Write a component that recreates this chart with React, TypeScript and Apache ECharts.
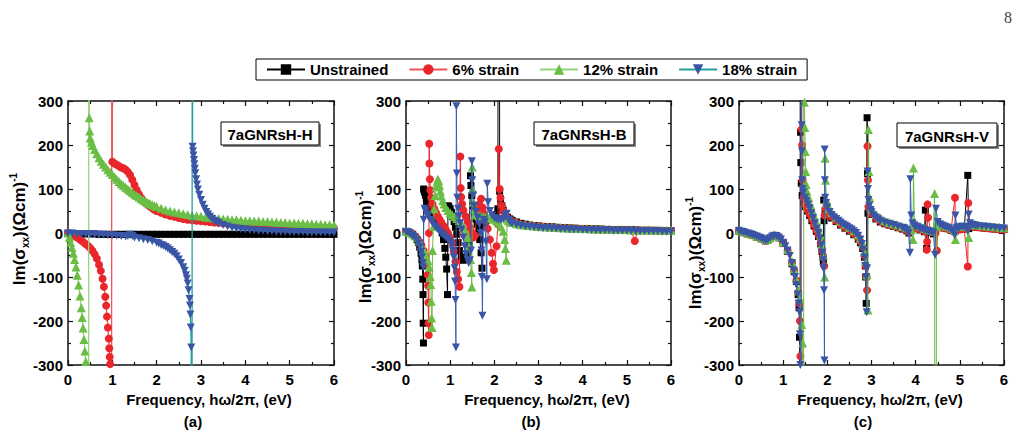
import React, { useEffect, useRef } from 'react';
import * as echarts from 'echarts';

type P = [number, number][];
const FONT = "'Liberation Sans', Arial, Helvetica, sans-serif";

const seriesNames = ['Unstrained', '6% strain', '12% strain', '18% strain'];
const panelTitles = ['7aGNRsH-H', '7aGNRsH-B', '7aGNRsH-V'];
const panelLetters = ['(a)', '(b)', '(c)'];
const xAxisTitle = 'Frequency, hω/2π, (eV)';
const X_MIN = 0, X_MAX = 6, X_STEP = 1;
const Y_MIN = -300, Y_MAX = 300, Y_STEP = 100;

// ---------- Panel (a) 7aGNRsH-H ----------
const aUnstrained: P = [[0,-1],[0.1,-1],[0.2,-2],[0.3,-2],[0.4,-2],[0.5,-2],[0.6,-2],[0.7,-3],[0.8,-3],[0.9,-3],[1,-3],[1.1,-3],[1.2,-3],[1.3,-3],[1.4,-3],[1.5,-3],[1.6,-3],[1.7,-3],[1.8,-3],[1.9,-3],[2,-3],[2.1,-3],[2.2,-3],[2.3,-3],[2.4,-3],[2.5,-3],[2.6,-3],[2.7,-3],[2.8,-3],[2.9,-3],[3,-3],[3.1,-3],[3.2,-3],[3.3,-3],[3.4,-3],[3.5,-3],[3.6,-3],[3.7,-3],[3.8,-3],[3.9,-3],[4,-3],[4.1,-3],[4.2,-3],[4.3,-3],[4.4,-3],[4.5,-3],[4.6,-3],[4.7,-3],[4.8,-3],[4.9,-3],[5,-3],[5.1,-3],[5.2,-3],[5.3,-3],[5.4,-3],[5.5,-3],[5.6,-3],[5.7,-3],[5.8,-3],[5.9,-3],[6,-3]];
const aStrain6: P = [[0,0],[0.05,-2],[0.1,-4],[0.15,-7],[0.2,-10],[0.25,-13],[0.3,-17],[0.35,-21],[0.4,-25],[0.45,-29],[0.5,-34],[0.55,-40],[0.6,-48],[0.65,-58],[0.7,-72],[0.74,-86],[0.78,-104],[0.81,-122],[0.84,-145],[0.86,-165],[0.88,-190],[0.9,-215],[0.92,-240],[0.93,-262],[0.94,-282],[0.95,-298],[0.97,-3000],[1.0,3000],[1.0,162],[1.05,158],[1.1,155],[1.15,152],[1.2,149],[1.25,147],[1.3,144],[1.35,139],[1.4,132],[1.45,121],[1.5,109],[1.55,98],[1.6,88],[1.65,80],[1.7,73],[1.75,68],[1.8,64],[1.85,60],[1.9,56],[1.95,53],[2,50],[2.1,46],[2.2,42],[2.3,39],[2.4,37],[2.5,34],[2.6,32],[2.7,30],[2.8,29],[2.9,28],[3,27],[3.1,26],[3.2,25],[3.3,24],[3.4,23],[3.5,22],[3.6,21],[3.7,20],[3.8,20],[3.9,19],[4,19],[4.1,18],[4.2,18],[4.3,17],[4.4,17],[4.5,16],[4.6,16],[4.7,15],[4.8,15],[4.9,14],[5,14],[5.1,14],[5.2,13],[5.3,13],[5.4,13],[5.5,12],[5.6,12],[5.7,12],[5.8,11],[5.9,11],[6,11]];
const aStrain12: P = [[0,0],[0.03,-10],[0.06,-21],[0.09,-33],[0.12,-46],[0.15,-60],[0.18,-77],[0.21,-96],[0.24,-118],[0.27,-143],[0.3,-170],[0.32,-192],[0.34,-216],[0.36,-242],[0.38,-268],[0.4,-292],[0.46,-3000],[0.475,3000],[0.48,262],[0.49,232],[0.5,216],[0.53,207],[0.56,199],[0.6,190],[0.65,180],[0.7,171],[0.75,163],[0.8,156],[0.85,150],[0.9,144],[0.95,138],[1,133],[1.05,127],[1.1,122],[1.15,117],[1.2,112],[1.25,108],[1.3,104],[1.35,100],[1.4,96],[1.45,92],[1.5,88],[1.55,85],[1.6,82],[1.65,78],[1.7,75],[1.75,72],[1.8,69],[1.85,67],[1.9,64],[1.95,62],[2,60],[2.1,56],[2.2,53],[2.3,50],[2.4,48],[2.5,46],[2.6,44],[2.7,42],[2.8,40],[2.9,39],[3,38],[3.1,36],[3.2,35],[3.3,34],[3.4,33],[3.5,32],[3.6,31],[3.7,30],[3.8,30],[3.9,29],[4,28],[4.1,28],[4.2,27],[4.3,27],[4.4,26],[4.5,26],[4.6,25],[4.7,25],[4.8,24],[4.9,24],[5,23],[5.1,23],[5.2,22],[5.3,22],[5.4,21],[5.5,21],[5.6,20],[5.7,20],[5.8,19],[5.9,19],[6,18]];
const aStrain18: P = [[0,-1],[0.1,-1],[0.2,-2],[0.3,-2],[0.4,-3],[0.5,-3],[0.6,-3],[0.7,-4],[0.8,-4],[0.9,-5],[1,-5],[1.1,-6],[1.2,-7],[1.3,-8],[1.35,-7],[1.4,-4],[1.45,-7],[1.5,-10],[1.6,-12],[1.7,-14],[1.8,-16],[1.9,-19],[2,-22],[2.05,-24],[2.1,-27],[2.15,-29],[2.2,-32],[2.25,-35],[2.3,-39],[2.35,-43],[2.4,-47],[2.45,-53],[2.5,-60],[2.55,-68],[2.6,-78],[2.63,-86],[2.66,-96],[2.68,-104],[2.7,-115],[2.72,-130],[2.74,-150],[2.75,-165],[2.76,-185],[2.77,-215],[2.78,-260],[2.79,-3000],[2.81,3000],[2.81,196],[2.82,186],[2.83,176],[2.84,166],[2.85,156],[2.86,146],[2.87,136],[2.89,122],[2.91,110],[2.93,99],[2.96,87],[3,75],[3.04,64],[3.08,55],[3.12,48],[3.16,42],[3.2,37],[3.25,32],[3.3,28],[3.35,25],[3.4,22],[3.5,18],[3.6,15],[3.7,12],[3.8,10],[3.9,9],[4,8],[4.1,7],[4.2,6],[4.3,5],[4.4,5],[4.5,4],[4.6,4],[4.7,3],[4.8,3],[4.9,3],[5,2],[5.1,2],[5.2,2],[5.3,2],[5.4,1],[5.5,1],[5.6,1],[5.7,1],[5.8,1],[5.9,1],[6,1]];

// ---------- Panel (b) 7aGNRsH-B ----------
const bUnstrained: P = [[0,3],[0.05,2],[0.1,0],[0.15,-3],[0.2,-8],[0.25,-15],[0.28,-22],[0.31,-32],[0.34,-46],[0.36,-60],[0.37,-75],[0.38,-105],[0.385,-140],[0.39,-205],[0.395,-250],[0.4,100],[0.41,97],[0.42,93],[0.44,86],[0.46,79],[0.48,72],[0.5,66],[0.53,58],[0.56,51],[0.6,44],[0.64,38],[0.68,32],[0.72,26],[0.76,18],[0.79,10],[0.82,0],[0.85,-15],[0.88,-35],[0.9,-55],[0.92,-82],[0.94,-140],[0.95,62],[0.97,60],[1,55],[1.03,47],[1.06,37],[1.09,26],[1.12,13],[1.15,-3],[1.18,-22],[1.21,-40],[1.25,-55],[1.3,-62],[1.35,-58],[1.4,-45],[1.43,-25],[1.46,130],[1.47,108],[1.49,85],[1.52,62],[1.55,45],[1.58,32],[1.61,20],[1.64,5],[1.67,-15],[1.7,-45],[1.72,-80],[1.74,15],[1.77,24],[1.8,27],[1.85,30],[1.9,32],[1.95,34],[2,37],[2.04,42],[2.08,55],[2.11,3000],[2.12,95],[2.14,78],[2.17,62],[2.2,52],[2.25,42],[2.3,36],[2.35,32],[2.4,29],[2.5,25],[2.6,22],[2.7,20],[2.8,18],[2.9,17],[3,16],[3.1,15],[3.2,14],[3.3,14],[3.4,13],[3.5,12],[3.6,12],[3.7,11],[3.8,11],[3.9,10],[4,10],[4.1,10],[4.2,9],[4.3,9],[4.4,9],[4.5,8],[4.6,8],[4.7,8],[4.8,8],[4.9,7],[5,7],[5.1,7],[5.2,7],[5.3,6],[5.4,6],[5.5,6],[5.6,6],[5.7,6],[5.8,5],[5.9,5],[6,5]];
const bStrain6: P = [[0,3],[0.05,2],[0.1,0],[0.15,-3],[0.2,-7],[0.25,-12],[0.3,-19],[0.35,-28],[0.4,-40],[0.44,-53],[0.47,-70],[0.49,-95],[0.5,-120],[0.505,-158],[0.51,-205],[0.515,-232],[0.52,0],[0.525,203],[0.53,158],[0.54,122],[0.55,97],[0.57,80],[0.6,66],[0.64,55],[0.68,46],[0.72,38],[0.76,31],[0.8,24],[0.85,16],[0.9,8],[0.95,0],[1,-10],[1.04,-22],[1.08,-40],[1.12,-65],[1.15,-88],[1.18,-105],[1.21,-122],[1.23,174],[1.24,102],[1.25,82],[1.27,66],[1.3,52],[1.35,38],[1.4,25],[1.45,12],[1.5,0],[1.53,-10],[1.56,-5],[1.6,40],[1.63,55],[1.66,65],[1.7,78],[1.73,58],[1.76,44],[1.8,28],[1.85,10],[1.9,-15],[1.94,-45],[1.97,-70],[1.99,-84],[2.05,-30],[2.08,20],[2.1,191],[2.12,100],[2.14,80],[2.17,62],[2.2,50],[2.25,40],[2.3,34],[2.35,30],[2.4,27],[2.5,23],[2.6,20],[2.7,18],[2.8,17],[2.9,16],[3,15],[3.1,14],[3.2,13],[3.3,13],[3.4,12],[3.5,12],[3.6,11],[3.7,11],[3.8,10],[3.9,10],[4,9],[4.1,9],[4.2,9],[4.3,8],[4.4,8],[4.5,8],[4.6,8],[4.7,7],[4.8,7],[4.9,7],[5,7],[5.1,6],[5.18,-18],[5.25,6],[5.3,6],[5.4,6],[5.5,6],[5.6,5],[5.7,5],[5.8,5],[5.9,5],[6,5]];
const bStrain12: P = [[0,4],[0.05,3],[0.1,1],[0.15,-2],[0.2,-6],[0.25,-11],[0.3,-18],[0.35,-27],[0.4,-38],[0.45,-50],[0.5,-63],[0.53,-78],[0.55,-99],[0.56,-117],[0.57,-155],[0.58,-193],[0.59,-215],[0.6,-40],[0.62,15],[0.64,55],[0.66,85],[0.68,105],[0.7,116],[0.72,122],[0.74,119],[0.76,108],[0.78,95],[0.8,84],[0.83,74],[0.86,66],[0.9,58],[0.95,51],[1,46],[1.05,41],[1.1,37],[1.15,33],[1.2,28],[1.25,22],[1.3,14],[1.35,4],[1.4,-10],[1.43,-30],[1.46,-60],[1.48,-90],[1.49,-123],[1.5,150],[1.51,100],[1.52,70],[1.54,52],[1.57,44],[1.6,41],[1.65,39],[1.7,38],[1.75,37],[1.8,36],[1.85,35],[1.9,34],[1.95,33],[2,31],[2.05,28],[2.1,22],[2.15,14],[2.2,4],[2.23,-15],[2.25,-35],[2.27,-62],[2.29,32],[2.32,28],[2.36,25],[2.4,24],[2.5,21],[2.6,19],[2.7,18],[2.8,17],[2.9,16],[3,15],[3.1,14],[3.2,14],[3.3,13],[3.4,13],[3.5,12],[3.6,12],[3.7,11],[3.8,11],[3.9,10],[4,10],[4.1,10],[4.2,9],[4.3,9],[4.4,9],[4.5,9],[4.6,8],[4.7,8],[4.8,8],[4.9,8],[5,8],[5.1,7],[5.2,7],[5.3,7],[5.4,7],[5.5,7],[5.6,7],[5.7,6],[5.8,6],[5.9,6],[6,6]];
const bStrain18: P = [[0,3],[0.05,1],[0.1,-2],[0.15,-6],[0.2,-11],[0.25,-17],[0.28,-24],[0.31,-32],[0.34,-43],[0.36,-55],[0.38,-68],[0.39,-78],[0.4,30],[0.42,55],[0.44,50],[0.47,43],[0.5,38],[0.55,30],[0.6,22],[0.65,16],[0.7,10],[0.75,4],[0.8,-1],[0.85,-5],[0.9,-10],[0.95,-15],[1,-20],[1.03,-28],[1.06,-40],[1.08,-55],[1.1,-80],[1.11,-110],[1.12,-152],[1.13,-260],[1.14,288],[1.15,135],[1.16,80],[1.18,55],[1.2,38],[1.23,22],[1.26,8],[1.3,-10],[1.33,-30],[1.36,-48],[1.39,-60],[1.42,-68],[1.45,-62],[1.47,-40],[1.49,163],[1.5,120],[1.52,85],[1.55,62],[1.58,48],[1.62,35],[1.66,20],[1.69,0],[1.71,-40],[1.72,-100],[1.73,-188],[1.75,30],[1.78,25],[1.81,-20],[1.83,-105],[1.84,112],[1.86,70],[1.9,50],[1.95,40],[2,34],[2.05,31],[2.1,30],[2.15,30],[2.2,32],[2.25,38],[2.28,44],[2.32,30],[2.36,25],[2.4,22],[2.5,19],[2.6,17],[2.7,15],[2.8,14],[2.9,13],[3,12],[3.1,11],[3.2,11],[3.3,10],[3.4,10],[3.5,9],[3.6,9],[3.7,8],[3.8,8],[3.9,8],[4,7],[4.1,7],[4.2,7],[4.3,6],[4.4,6],[4.5,6],[4.6,6],[4.7,5],[4.8,5],[4.9,5],[5,5],[5.1,5],[5.2,4],[5.3,4],[5.4,4],[5.5,4],[5.6,4],[5.7,4],[5.8,3],[5.9,3],[6,3]];

// ---------- Panel (c) 7aGNRsH-V ----------
const cUnstrained: P = [[0,4],[0.1,1],[0.2,-2],[0.3,-5],[0.4,-9],[0.5,-13],[0.6,-18],[0.65,-17],[0.7,-13],[0.8,-7],[0.9,-11],[1,-23],[1.1,-42],[1.2,-70],[1.25,-88],[1.3,-110],[1.34,-140],[1.36,-170],[1.37,-237],[1.38,-3000],[1.39,3000],[1.395,229],[1.4,160],[1.41,113],[1.43,85],[1.46,70],[1.5,60],[1.55,50],[1.6,40],[1.65,28],[1.7,16],[1.75,4],[1.8,-8],[1.85,-25],[1.88,-42],[1.9,-55],[1.91,-65],[1.92,75],[1.925,28],[1.95,50],[2,48],[2.05,40],[2.1,34],[2.2,26],[2.3,18],[2.4,11],[2.5,4],[2.6,-4],[2.7,-14],[2.75,-22],[2.8,-35],[2.84,-55],[2.86,-75],[2.87,-100],[2.88,-160],[2.9,262],[2.91,135],[2.92,45],[2.95,52],[3,42],[3.1,32],[3.2,25],[3.3,21],[3.4,18],[3.5,15],[3.6,12],[3.7,9],[3.8,5],[3.85,0],[3.9,5],[4,10],[4.1,7],[4.2,3],[4.22,52],[4.25,-35],[4.3,2],[4.4,-2],[4.5,15],[4.6,12],[4.7,10],[4.8,6],[4.9,5],[5,8],[5.1,9],[5.18,131],[5.2,10],[5.3,14],[5.4,13],[5.5,12],[5.6,11],[5.7,10],[5.8,9],[5.9,8],[6,8]];
const cStrain6: P = [[0,4],[0.1,1],[0.2,-2],[0.3,-5],[0.4,-9],[0.5,-13],[0.6,-17],[0.65,-16],[0.7,-12],[0.8,-6],[0.9,-10],[1,-22],[1.1,-41],[1.2,-68],[1.25,-86],[1.3,-108],[1.34,-135],[1.36,-160],[1.38,-200],[1.39,-280],[1.4,-3000],[1.41,3000],[1.42,236],[1.43,200],[1.44,120],[1.46,80],[1.5,65],[1.55,53],[1.6,43],[1.65,31],[1.7,19],[1.75,7],[1.8,-5],[1.85,-22],[1.88,-40],[1.9,-55],[1.93,-75],[1.94,40],[1.96,55],[2,52],[2.05,43],[2.1,37],[2.2,28],[2.3,20],[2.4,13],[2.5,6],[2.6,-2],[2.7,-12],[2.75,-20],[2.8,-32],[2.84,-52],[2.87,-75],[2.89,-100],[2.9,-130],[2.91,197],[2.92,120],[2.93,60],[2.96,52],[3,44],[3.1,34],[3.2,27],[3.3,22],[3.4,19],[3.5,16],[3.6,13],[3.7,10],[3.8,6],[3.85,2],[3.9,6],[4,11],[4.1,8],[4.2,4],[4.25,-38],[4.26,-20],[4.27,65],[4.28,35],[4.35,2],[4.45,0],[4.48,-40],[4.5,14],[4.6,12],[4.7,10],[4.8,6],[4.89,80],[4.9,3],[5,8],[5.1,9],[5.18,-76],[5.19,68],[5.22,15],[5.3,14],[5.4,13],[5.5,12],[5.6,11],[5.7,10],[5.8,9],[5.9,8],[6,8]];
const cStrain12: P = [[0,6],[0.1,3],[0.2,0],[0.3,-3],[0.4,-7],[0.5,-11],[0.6,-15],[0.65,-14],[0.7,-10],[0.8,-4],[0.9,-8],[1,-20],[1.1,-38],[1.2,-65],[1.25,-83],[1.3,-105],[1.34,-130],[1.38,-150],[1.42,-208],[1.44,-250],[1.46,-3000],[1.47,3000],[1.48,297],[1.49,240],[1.5,185],[1.51,140],[1.52,110],[1.54,95],[1.58,80],[1.62,65],[1.66,52],[1.7,40],[1.75,26],[1.8,12],[1.85,-5],[1.88,-25],[1.91,-50],[1.94,-100],[1.95,170],[1.96,120],[1.98,75],[2,68],[2.05,55],[2.1,47],[2.2,36],[2.3,27],[2.4,20],[2.5,13],[2.6,5],[2.7,-4],[2.75,-12],[2.8,-24],[2.84,-42],[2.87,-65],[2.9,-95],[2.92,-175],[2.93,235],[2.94,140],[2.96,80],[3,55],[3.1,42],[3.2,34],[3.3,28],[3.4,24],[3.5,21],[3.6,18],[3.7,15],[3.8,12],[3.9,8],[3.94,-15],[3.95,148],[3.97,25],[4,20],[4.1,15],[4.2,10],[4.3,7],[4.4,5],[4.43,90],[4.45,-3000],[4.47,15],[4.5,22],[4.6,18],[4.7,15],[4.8,11],[4.88,5],[4.9,-15],[4.93,14],[5,15],[5.1,16],[5.2,-10],[5.22,20],[5.3,19],[5.4,18],[5.5,17],[5.6,16],[5.7,15],[5.8,14],[5.9,13],[6,12]];
const cStrain18: P = [[0,5],[0.05,3],[0.1,2],[0.15,0],[0.2,-1],[0.25,-3],[0.3,-4],[0.35,-6],[0.4,-8],[0.45,-10],[0.5,-12],[0.55,-15],[0.6,-17],[0.65,-16],[0.7,-12],[0.75,-8],[0.8,-6],[0.85,-7],[0.9,-10],[0.95,-15],[1,-22],[1.05,-30],[1.1,-40],[1.15,-52],[1.2,-68],[1.24,-85],[1.27,-100],[1.3,-118],[1.33,-140],[1.35,-160],[1.37,-180],[1.38,-230],[1.39,-300],[1.4,-3000],[1.41,3000],[1.42,245],[1.425,185],[1.43,120],[1.44,100],[1.46,92],[1.5,80],[1.53,72],[1.56,65],[1.6,56],[1.64,45],[1.68,34],[1.72,22],[1.76,10],[1.8,0],[1.83,-12],[1.86,-28],[1.88,-45],[1.9,-62],[1.91,-80],[1.925,-130],[1.935,-290],[1.94,190],[1.945,120],[1.95,80],[1.97,68],[2,58],[2.05,48],[2.1,41],[2.15,36],[2.2,32],[2.25,28],[2.3,24],[2.35,20],[2.4,17],[2.45,14],[2.5,11],[2.55,8],[2.6,4],[2.65,0],[2.7,-6],[2.75,-15],[2.78,-25],[2.81,-38],[2.84,-55],[2.86,-75],[2.88,-100],[2.89,-180],[2.9,-80],[2.91,140],[2.92,100],[2.93,75],[2.95,62],[2.98,52],[3,47],[3.05,40],[3.1,35],[3.15,31],[3.2,28],[3.3,24],[3.4,21],[3.5,18],[3.6,15],[3.7,12],[3.75,10],[3.8,7],[3.84,0],[3.87,-45],[3.88,122],[3.9,40],[3.93,22],[3.97,17],[4,15],[4.05,13],[4.1,11],[4.15,9],[4.2,7],[4.25,5],[4.3,4],[4.35,3],[4.4,0],[4.44,-50],[4.46,55],[4.5,25],[4.55,20],[4.6,17],[4.65,15],[4.7,13],[4.75,11],[4.8,8],[4.85,4],[4.88,-5],[4.9,40],[4.93,12],[4.97,12],[5,13],[5.05,14],[5.1,14],[5.15,12],[5.18,5],[5.2,42],[5.23,22],[5.27,19],[5.3,18],[5.35,17],[5.4,16],[5.5,15],[5.6,14],[5.7,13],[5.8,12],[5.9,11],[6,10]];

const panelData: P[][] = [
  [aUnstrained, aStrain6, aStrain12, aStrain18],
  [bUnstrained, bStrain6, bStrain12, bStrain18],
  [cUnstrained, cStrain6, cStrain12, cStrain18],
];

// styles
const markerColors = ['#000000', '#e8262b', '#6abd45', '#3a55a6'];
const lineColorsA = ['#000000', '#ee5458', '#93d47c', '#22a0a0'];
const lineColorsBC = ['#000000', '#e8262b', '#6abd45', '#3a5fb0'];
const symbols = ['rect', 'circle', 'triangle', 'path://M0,0L10,0L5,10Z'];
const symbolSizes = [7, 8, 9, 8];

const grids = [
  { left: 68, top: 101, width: 266, height: 264 },
  { left: 406, top: 101, width: 265, height: 264 },
  { left: 739, top: 101, width: 265, height: 264 },
];
const insetBoxes = [
  { x: 221, y: 122, w: 98, h: 23 },
  { x: 534, y: 122, w: 100, h: 23 },
  { x: 897, y: 123, w: 100, h: 24 },
];
const xTitlePos = [[209, 399], [547, 399], [880, 399]];
const letterPos = [[193, 421], [531, 421], [863, 421]];
const yTitlePos = [[19, 229], [365, 247], [695, 253]];

export default function App() {
  const ref = useRef<HTMLDivElement>(null);
  useEffect(() => {
    if (!ref.current) return;
    const chart = echarts.init(ref.current, undefined, { renderer: 'svg' });
    const axisLineStyle = { color: '#111', width: 1.5 };
    const xAxes: any[] = [];
    const yAxes: any[] = [];
    for (let pos = 0; pos < 2; pos++) {
      for (let g = 0; g < 3; g++) {
        xAxes.push({
          type: 'value', gridIndex: g, min: X_MIN, max: X_MAX, interval: X_STEP,
          position: pos === 0 ? 'bottom' : 'top',
          axisLine: { show: true, onZero: false, lineStyle: axisLineStyle },
          axisTick: { show: true, inside: true, length: 5, lineStyle: { color: '#111', width: 1.2 } },
          minorTick: { show: true, splitNumber: 2, length: 3, lineStyle: { color: '#111', width: 1.2 } },
          splitLine: { show: false },
          axisLabel: { show: pos === 0, margin: 7, color: '#000', fontFamily: FONT, fontWeight: 'bold', fontSize: 15 },
        });
        yAxes.push({
          type: 'value', gridIndex: g, min: Y_MIN, max: Y_MAX, interval: Y_STEP,
          position: pos === 0 ? 'left' : 'right',
          axisLine: { show: true, onZero: false, lineStyle: axisLineStyle },
          axisTick: { show: true, inside: true, length: 5, lineStyle: { color: '#111', width: 1.2 } },
          minorTick: { show: true, splitNumber: 2, length: 3, lineStyle: { color: '#111', width: 1.2 } },
          splitLine: { show: false },
          axisLabel: { show: pos === 0, margin: 5, color: '#000', fontFamily: FONT, fontWeight: 'bold', fontSize: 15 },
        });
      }
    }
    const series: any[] = [];
    panelData.forEach((arr, g) => {
      arr.forEach((data, i) => {
        series.push({
          type: 'line', name: seriesNames[i], data,
          xAxisIndex: g, yAxisIndex: g,
          symbol: symbols[i], symbolSize: symbolSizes[i],
          itemStyle: { color: markerColors[i], borderWidth: 0 },
          lineStyle: { color: g === 0 ? lineColorsA[i] : lineColorsBC[i], width: g === 0 && i > 0 ? 1.3 : 1 },
          clip: true, silent: true, z: 2 + i,
        });
      });
    });
    const graphic: any[] = [];
    graphic.push({
      type: 'text', x: 1004, y: 9,
      style: { text: '8', font: "16px 'Liberation Serif', 'Times New Roman', serif", fill: '#444', align: 'left', verticalAlign: 'top' },
    });
    insetBoxes.forEach((b, g) => {
      graphic.push({ type: 'rect', shape: { x: b.x + 2, y: b.y + 2, width: b.w, height: b.h }, style: { fill: '#888' }, z: 10 });
      graphic.push({ type: 'rect', shape: { x: b.x, y: b.y, width: b.w, height: b.h }, style: { fill: '#fff', stroke: '#000', lineWidth: 1 }, z: 11 });
      graphic.push({
        type: 'text', x: b.x + b.w / 2, y: b.y + b.h / 2 + 1, z: 12,
        style: { text: panelTitles[g], font: `bold 15px ${FONT}`, fill: '#000', align: 'center', verticalAlign: 'middle' },
      });
      graphic.push({
        type: 'text', x: xTitlePos[g][0], y: xTitlePos[g][1],
        style: { text: xAxisTitle, font: `bold 15px ${FONT}`, fill: '#000', align: 'center', verticalAlign: 'middle' },
      });
      graphic.push({
        type: 'text', x: letterPos[g][0], y: letterPos[g][1],
        style: { text: panelLetters[g], font: `bold 15px ${FONT}`, fill: '#000', align: 'center', verticalAlign: 'middle' },
      });
      graphic.push({
        type: 'text', x: yTitlePos[g][0], y: yTitlePos[g][1], rotation: Math.PI / 2,
        style: {
          text: '{m|Im(σ}{s|xx}{m|)(Ωcm)}{p|-1}',
          align: 'center', verticalAlign: 'middle',
          rich: {
            m: { font: `bold 17px ${FONT}`, fill: '#000', lineHeight: 22 },
            s: { font: `bold 10px ${FONT}`, fill: '#000', verticalAlign: 'bottom' },
            p: { font: `bold 10px ${FONT}`, fill: '#000', verticalAlign: 'top' },
          },
        },
      });
    });
    chart.setOption({
      animation: false,
      backgroundColor: '#fff',
      grid: grids.map((g) => ({ ...g, containLabel: false })),
      legend: {
        data: seriesNames, left: 256, top: 59, orient: 'horizontal',
        itemGap: 20, itemWidth: 38, itemHeight: 13, padding: [3, 10, 3, 10],
        borderColor: '#000', borderWidth: 1, selectedMode: false,
        textStyle: { fontFamily: FONT, fontWeight: 'bold', fontSize: 15, color: '#000' },
      },
      xAxis: xAxes,
      yAxis: yAxes,
      series,
      graphic,
    });
    return () => chart.dispose();
  }, []);
  return <div ref={ref} style={{ position: 'absolute', left: 0, top: 0, width: 1022, height: 445 }} />;
}
